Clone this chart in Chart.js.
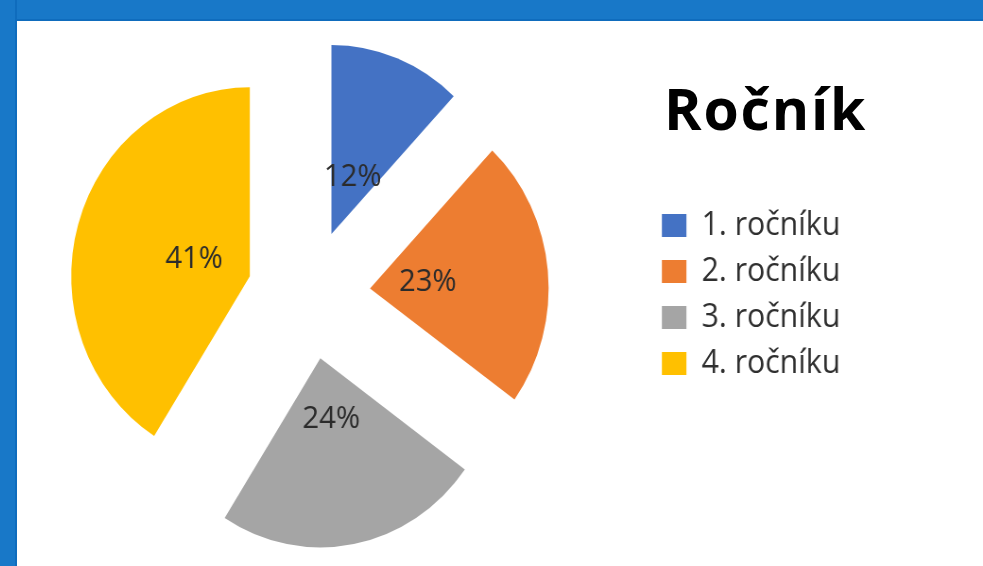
<!DOCTYPE html>
<html>
<head>
<meta charset="utf-8">
<script src="https://cdn.jsdelivr.net/npm/chart.js@4"></script>
<style>
  html, body { margin: 0; padding: 0; }
  body { width: 983px; height: 566px; overflow: hidden; position: relative; background: #fff; }
  .frameTop { position: absolute; left: 0; top: 0; width: 983px; height: 21px; background: #1878c8; border-bottom: 2px solid #0f6cbd; box-sizing: border-box; }
  .frameLeft { position: absolute; left: 0; top: 0; width: 17px; height: 566px; background: #1878c8; border-right: 2px solid #0f6cbd; box-sizing: border-box; }
  /* the source picture is squeezed a little in width */
  #mainChart { position: absolute; left: -31px; top: 23px; transform: scaleX(0.945); transform-origin: 0 0; }
  .title { position: absolute; left: 664px; top: 80px; font: bold 57px/1 "Open Sans", sans-serif; letter-spacing: 1.8px; color: #000; white-space: nowrap; }
</style>
</head>
<body>
<div class="frameTop"></div>
<div class="frameLeft"></div>
<div class="title">Ročník</div>
<canvas id="mainChart" width="932" height="543"></canvas>
<script>
// data
const categories = ["1. ročníku", "2. ročníku", "3. ročníku", "4. ročníku"];
const percents = [12, 23, 24, 41];
const colors = ["#4472C4", "#ED7D31", "#A5A5A5", "#FFC000"];

const pieRadius = 189;
const explode = 260; // chart.js moves the slice by offset/4
const labelDist = 0.325;

// keep exploded slices at the same radius and angle (chart.js grows and trims them a bit)
const keepRadius = {
    id: 'keepRadius',
    afterDatasetUpdate(chart, args) {
        args.meta.data.forEach(function(arc) {
            const off = (arc.options.offset || 0) / 4;
            const fix = 1 - Math.sin(Math.min(Math.PI, arc.circumference));
            const rOff = off * fix;
            arc.outerRadius = pieRadius - rOff;
            const trim = rOff / (2 * Math.PI * pieRadius);
            arc.startAngle -= trim;
            arc.endAngle += trim;
        });
    }
};

// percent labels inside the slices
const pctLabels = {
    id: 'pctLabels',
    afterDatasetsDraw(chart) {
        const ctx = chart.ctx;
        const meta = chart.getDatasetMeta(0);
        ctx.save();
        ctx.font = '31px "Open Sans", sans-serif';
        ctx.fillStyle = '#2b2b2b';
        ctx.textAlign = 'center';
        ctx.textBaseline = 'middle';
        meta.data.forEach(function(arc, i) {
            const mid = (arc.startAngle + arc.endAngle) / 2;
            const d = (arc.options.offset || 0) / 4 + labelDist * pieRadius;
            ctx.fillText(percents[i] + '%', arc.x + Math.cos(mid) * d, arc.y + Math.sin(mid) * d);
        });
        ctx.restore();
    }
};

new Chart(document.getElementById("mainChart"), {
    type: 'pie',
    data: {
        labels: categories,
        datasets: [{
            data: percents,
            backgroundColor: colors,
            borderWidth: 0,
            offset: explode
        }]
    },
    options: {
        responsive: false,
        animation: false,
        radius: pieRadius,
        layout: { padding: 0 },
        plugins: {
            tooltip: { enabled: false },
            legend: {
                position: 'right',
                align: 'center',
                labels: {
                    boxWidth: 26,
                    boxHeight: 23,
                    padding: 14,
                    color: '#2f2f2f',
                    font: { family: 'Open Sans', size: 32 }
                }
            }
        }
    },
    plugins: [keepRadius, pctLabels]
});
</script>
</body>
</html>
